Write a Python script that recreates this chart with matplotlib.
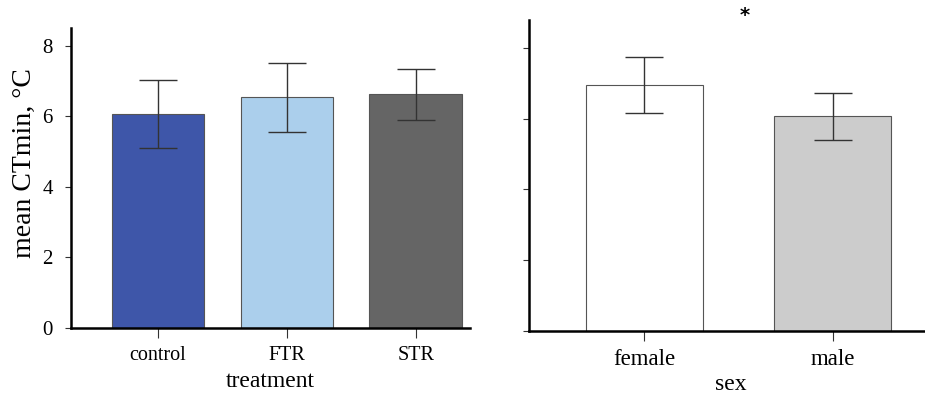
import numpy as np
import matplotlib.pyplot as plt
from matplotlib.transforms import ScaledTranslation

plt.rcParams['font.family'] = ['Liberation Serif', 'DejaVu Serif']

# données
treatments = ['control', 'FTR', 'STR']
treat_mean = [6.06, 6.54, 6.62]
treat_err = [0.96, 0.98, 0.73]
treat_colors = ['#3e56a9', '#abcfec', '#656565']

sexes = ['female', 'male']
sex_mean = [6.95, 6.06]
sex_err = [0.78, 0.67]
sex_colors = ['#ffffff', '#cccccc']

fig = plt.figure(figsize=(9.25, 3.94), dpi=100)

# === panneau gauche : traitement ===
ax1 = fig.add_axes([0.0768, 0.1675, 0.4312, 0.7615])
x1 = np.arange(len(treatments))
ax1.bar(x1, treat_mean, width=0.72, color=treat_colors, edgecolor='#555555', linewidth=0.8)
ax1.errorbar(x1, treat_mean, yerr=treat_err, fmt='none', ecolor='#333333',
             elinewidth=1.0, capsize=14, capthick=1.0)
ax1.set_xlim(-0.675, 2.42)
ax1.set_ylim(0, 8.5)
ax1.set_yticks([0, 2, 4, 6, 8])
ax1.set_xticks(x1)
ax1.set_xticklabels(treatments, fontsize=14.5)
ax1.tick_params(axis='y', labelsize=15, pad=9)
ax1.set_ylabel('mean CTmin, °C', fontsize=20)
ax1.yaxis.set_label_coords(-0.085, 0.55)
ax1.set_xlabel('treatment', fontsize=17, labelpad=4)

# === panneau droit : sexe ===
ax2 = fig.add_axes([0.572, 0.160, 0.428, 0.789])
x2 = np.arange(len(sexes))
ax2.bar(x2, sex_mean, width=0.62, color=sex_colors, edgecolor='#555555', linewidth=0.8)
ax2.errorbar(x2, sex_mean, yerr=sex_err, fmt='none', ecolor='#333333',
             elinewidth=1.0, capsize=14, capthick=1.0)
ax2.set_xlim(-0.61, 1.49)
ax2.set_ylim(0, 8.78)
ax2.set_yticks([0, 2, 4, 6, 8])
ax2.set_yticklabels([])
ax2.set_xticks(x2)
ax2.set_xticklabels(sexes, fontsize=16.5)
ax2.set_xlabel('sex', fontsize=17, labelpad=0)
ax2.xaxis.set_label_coords(0.51, -0.14)
ax2.text(0.535, 8.9, '*', ha='center', va='center', fontsize=14, fontweight='bold',
         family='DejaVu Sans')
# les étiquettes du panneau droit sont un peu décalées vers la droite
for lab in ax2.get_xticklabels():
    lab.set_transform(lab.get_transform() + ScaledTranslation(0.1, 0, fig.dpi_scale_trans))

for ax in (ax1, ax2):
    ax.spines['top'].set_visible(False)
    ax.spines['right'].set_visible(False)
    ax.spines['left'].set_linewidth(1.8)
    ax.spines['bottom'].set_linewidth(1.8)
    ax.tick_params(axis='both', width=0.8, color='#333333')
    ax.tick_params(axis='y', length=4)
    ax.tick_params(axis='x', length=7, pad=6)

fig.savefig('out.png', dpi=100)
